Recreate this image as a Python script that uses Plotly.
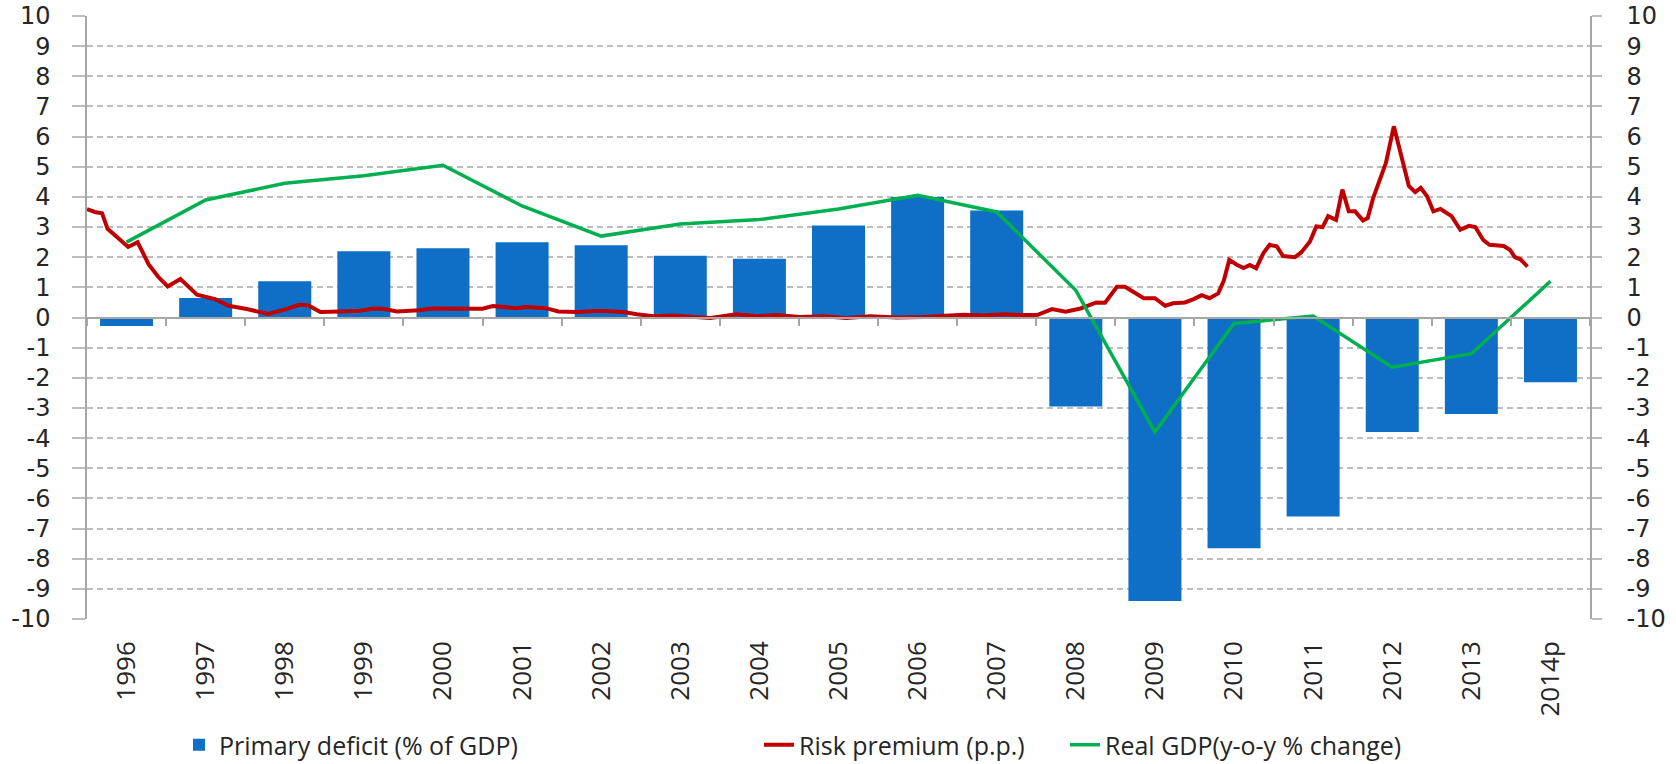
import plotly.graph_objects as go

# ---------------- data ----------------
years = ["1996", "1997", "1998", "1999", "2000", "2001", "2002", "2003", "2004", "2005",
         "2006", "2007", "2008", "2009", "2010", "2011", "2012", "2013", "2014p"]

primary_deficit = [-0.28, 0.65, 1.2, 2.2, 2.3, 2.5, 2.4, 2.05, 1.95, 3.05,
                   4.0, 3.55, -2.95, -9.4, -7.65, -6.6, -3.8, -3.2, -2.15]

real_gdp = [2.5, 3.9, 4.45, 4.7, 5.05, 3.7, 2.7, 3.1, 3.25, 3.6,
            4.05, 3.5, 0.9, -3.8, -0.2, 0.05, -1.65, -1.2, 1.2]

# risk premium (p.p.), time in decimal years
risk_t = [1996.00, 1996.10, 1996.19, 1996.26, 1996.40, 1996.52, 1996.64, 1996.78, 1996.90,
          1997.02, 1997.18, 1997.39, 1997.62, 1997.79, 1998.02, 1998.29, 1998.52, 1998.68,
          1998.80, 1998.95, 1999.20, 1999.45, 1999.62, 1999.74, 1999.92, 2000.20, 2000.36,
          2000.76, 2001.00, 2001.13, 2001.42, 2001.55, 2001.80, 2001.96, 2002.19, 2002.48,
          2002.78, 2002.95, 2003.16, 2003.41, 2003.75, 2003.88, 2004.21, 2004.47, 2004.72,
          2005.01, 2005.31, 2005.60, 2005.90, 2006.24, 2006.57, 2006.83, 2007.08, 2007.33,
          2007.58, 2007.80, 2008.01, 2008.20, 2008.37, 2008.56, 2008.76, 2008.87, 2009.02,
          2009.12, 2009.36, 2009.50, 2009.63, 2009.73, 2009.88, 2009.99, 2010.09, 2010.19,
          2010.30, 2010.37, 2010.44, 2010.53, 2010.62, 2010.70, 2010.78, 2010.87, 2010.95,
          2011.04, 2011.12, 2011.27, 2011.35, 2011.46, 2011.54, 2011.62, 2011.69, 2011.79,
          2011.87, 2011.95, 2012.03, 2012.13, 2012.19, 2012.26, 2012.42, 2012.52, 2012.61,
          2012.71, 2012.79, 2012.86, 2012.94, 2013.02, 2013.11, 2013.25, 2013.36, 2013.47,
          2013.55, 2013.65, 2013.73, 2013.91, 2013.99, 2014.05, 2014.12, 2014.21]
risk_premium = [3.59, 3.50, 3.46, 2.94, 2.62, 2.34, 2.50, 1.76, 1.35,
                1.03, 1.28, 0.76, 0.61, 0.39, 0.28, 0.12, 0.28, 0.42,
                0.40, 0.18, 0.20, 0.22, 0.30, 0.29, 0.20, 0.24, 0.30,
                0.30, 0.29, 0.38, 0.31, 0.35, 0.31, 0.20, 0.18, 0.22,
                0.18, 0.11, 0.04, 0.07, 0.02, -0.02, 0.11, 0.04, 0.08,
                0.02, 0.04, -0.02, 0.04, 0.00, 0.02, 0.07, 0.09, 0.07,
                0.11, 0.08, 0.08, 0.28, 0.19, 0.30, 0.50, 0.49, 1.02,
                1.02, 0.64, 0.64, 0.39, 0.47, 0.50, 0.61, 0.74, 0.64,
                0.80, 1.22, 1.91, 1.76, 1.64, 1.74, 1.63, 2.13, 2.41,
                2.36, 2.04, 2.00, 2.16, 2.52, 3.02, 3.00, 3.36, 3.24,
                4.24, 3.52, 3.52, 3.22, 3.30, 3.97, 5.13, 6.34, 5.36,
                4.36, 4.16, 4.30, 4.02, 3.52, 3.60, 3.36, 2.91, 3.04,
                3.00, 2.57, 2.41, 2.37, 2.24, 2.00, 1.93, 1.69]

y_ticks = list(range(-10, 11))
y_ticktext = [str(v) for v in y_ticks]

# ---------------- styles ----------------
BLUE = "#0F6EC6"
RED = "#C00000"
GREEN = "#00B050"
AXIS = "#A6A6A6"
GRID = "#BDBDBD"
TXT = "#262626"
YFONT = dict(family="DejaVu Sans", size=24, color=TXT)
XFONT = dict(family="Open Sans", size=26, color=TXT)
LFONT = dict(family="Open Sans", size=25, color=TXT)
LEG_Y = 1 - 745 / 764

fig = go.Figure()
fig.add_trace(go.Bar(x=years, y=primary_deficit, name="Primary deficit (% of GDP)",
                     marker=dict(color=BLUE, line=dict(width=0)),
                     xaxis="x", yaxis="y", legend="legend"))
fig.add_trace(go.Scatter(x=risk_t, y=risk_premium, name="Risk premium (p.p.)",
                         mode="lines", line=dict(color=RED, width=4),
                         xaxis="x2", yaxis="y", legend="legend2"))
fig.add_trace(go.Scatter(x=years, y=real_gdp, name="Real GDP(y-o-y % change)",
                         mode="lines", line=dict(color=GREEN, width=3.5),
                         xaxis="x3", yaxis="y", legend="legend3"))
# invisible trace to register right axis
fig.add_trace(go.Scatter(x=years, y=real_gdp, mode="lines", showlegend=False,
                         line=dict(width=0), hoverinfo="skip", opacity=0,
                         xaxis="x", yaxis="y2"))

fig.update_layout(
    width=1676, height=764,
    margin=dict(l=87, r=86, t=16, b=145, autoexpand=False),
    paper_bgcolor="white", plot_bgcolor="white",
    bargap=0.33,
    xaxis=dict(type="category", categoryorder="array", categoryarray=years,
               range=[-0.5, 18.5], showline=False, ticks="", showgrid=False,
               zeroline=False, tickangle=-90, tickfont=XFONT, ticklabelstandoff=16,
               automargin=False),
    xaxis2=dict(type="linear", range=[1996, 2015], overlaying="x", anchor="y",
                visible=False),
    xaxis3=dict(type="category", categoryorder="array", categoryarray=years,
                range=[-0.5, 18.5], overlaying="x", anchor="free", position=0.5,
                showline=True, linecolor=AXIS, linewidth=1.5, ticks="outside",
                tickson="boundaries", ticklen=8, tickwidth=1.5, tickcolor=AXIS,
                showticklabels=False, showgrid=False, zeroline=False),
    yaxis=dict(range=[-10, 10], tickmode="array", tickvals=y_ticks, ticktext=y_ticktext,
               showgrid=True, gridcolor=GRID, gridwidth=1.5, griddash="6px,4px",
               zeroline=False, showline=True, linecolor=AXIS, linewidth=1.5,
               ticks="outside", ticklen=13, tickwidth=1.5, tickcolor=GRID,
               tickfont=YFONT, ticklabelstandoff=17, automargin=False),
    yaxis2=dict(range=[-10, 10], tickmode="array", tickvals=y_ticks, ticktext=y_ticktext,
                overlaying="y", side="right", anchor="x", showgrid=False, zeroline=False,
                showline=True, linecolor=AXIS, linewidth=1.5,
                ticks="outside", ticklen=10, tickwidth=1.5, tickcolor=GRID,
                tickfont=YFONT, ticklabelstandoff=20, automargin=False),
    legend=dict(orientation="h", x=179 / 1676, y=LEG_Y, xref="container",
                yref="container", xanchor="left", yanchor="middle", font=LFONT,
                bgcolor="rgba(0,0,0,0)"),
    legend2=dict(orientation="h", x=759 / 1676, y=LEG_Y, xref="container",
                 yref="container", xanchor="left", yanchor="middle", font=LFONT,
                 bgcolor="rgba(0,0,0,0)"),
    legend3=dict(orientation="h", x=1065 / 1676, y=LEG_Y, xref="container",
                 yref="container", xanchor="left", yanchor="middle", font=LFONT,
                 bgcolor="rgba(0,0,0,0)"),
    showlegend=True,
)

fig.write_html("out.html", config={"displayModeBar": False},
               post_script="document.body.style.margin='0';document.body.style.overflow='hidden';")
